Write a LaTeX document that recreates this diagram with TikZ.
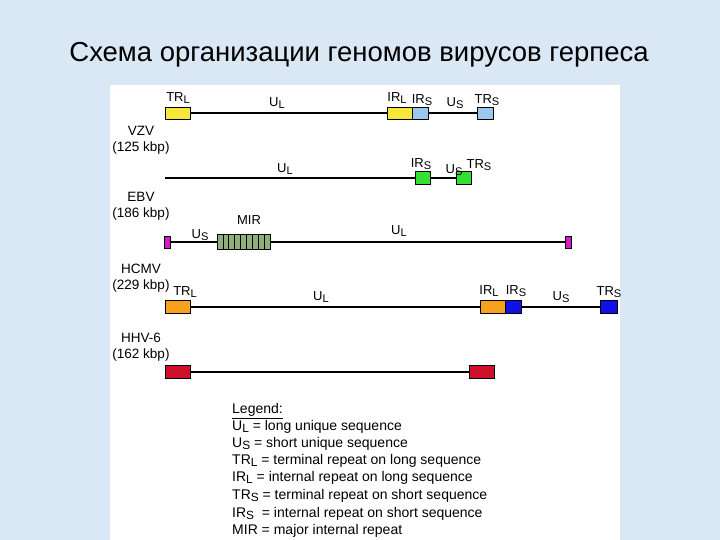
\documentclass[tikz,border=0pt]{standalone}
\usepackage{fontspec}
\setmainfont{Liberation Sans}
\newcommand\sbs[1]{\raisebox{-0.3ex}{\scalebox{0.85}{#1}}}
\definecolor{bg}{HTML}{DAE7F5}
\definecolor{yel}{HTML}{F5E83A}
\definecolor{lblue}{HTML}{9CC6EE}
\definecolor{grn}{HTML}{33E033}
\definecolor{mag}{HTML}{D21CC8}
\definecolor{mir}{HTML}{8FB07A}
\definecolor{org}{HTML}{F7A21E}
\definecolor{dblue}{HTML}{1010E8}
\definecolor{dred}{HTML}{D0102A}
\begin{document}
\begin{tikzpicture}[x=1pt,y=-1pt,
  gline/.style={line width=1.6pt},
  seg/.style={draw=black,line width=0.9pt,minimum height=12pt,inner sep=0pt},
  lab/.style={font=\fontsize{13}{14}\selectfont,inner sep=0pt},
  vir/.style={font=\fontsize{13.5}{16}\selectfont,inner sep=0pt,align=center},
  leg/.style={font=\fontsize{14}{15}\selectfont,inner sep=0pt,anchor=west}]
\useasboundingbox (0,0) rectangle (720,540);
\fill[bg] (0,0) rectangle (720,540);
\fill[white] (110,85) rectangle (620,540);
\node[font=\fontsize{27.5}{30}\selectfont] (title) at (359,55) {Схема организации геномов вирусов герпеса};
% Row 1 VZV
\coordinate (r1a) at (165,113); \coordinate (r1b) at (493,113);
\draw[gline] (r1a) -- (r1b);
\node[seg,fill=yel,minimum width=25pt] (a1) at (177.5,113) {};
\node[seg,fill=yel,minimum width=25pt] (a2) at (399.5,113) {};
\node[seg,fill=lblue,minimum width=16pt] (a3) at (420,113) {};
\node[seg,fill=lblue,minimum width=16pt] (a4) at (485,113) {};
\node[lab] (l1) at (178,98) {TR\sbs{L}};
\node[lab] (l2) at (277,103) {U\sbs{L}};
\node[lab] (l3) at (397,98) {IR\sbs{L}};
\node[lab] (l4) at (422,100) {IR\sbs{S}};
\node[lab] (l5) at (455,103) {U\sbs{S}};
\node[lab] (l6) at (487,100) {TR\sbs{S}};
\node[vir] (v1) at (141,140) {VZV\\(125 kbp)};
% Row 2 EBV
\coordinate (r2a) at (165,178); \coordinate (r2b) at (470,178);
\draw[gline] (r2a) -- (r2b);
\node[seg,fill=grn,minimum width=15pt,minimum height=13pt] (b1) at (422.5,178) {};
\node[seg,fill=grn,minimum width=15pt,minimum height=13pt] (b2) at (463.5,178) {};
\node[lab] (m1) at (285,169) {U\sbs{L}};
\node[lab] (m2) at (421,164) {IR\sbs{S}};
\node[lab] (m3) at (454,170) {U\sbs{S}};
\node[lab] (m4) at (479,165) {TR\sbs{S}};
\node[vir] (v2) at (141,206) {EBV\\(186 kbp)};
% Row 3 HCMV
\coordinate (r3a) at (167,242); \coordinate (r3b) at (568,242);
\draw[gline] (r3a) -- (r3b);
\node[seg,fill=mag,minimum width=6pt] (c1) at (167,242) {};
\node[seg,fill=mag,minimum width=6pt] (c2) at (568,242) {};
\node[seg,fill=mir,minimum width=53pt,minimum height=15pt] (c3) at (243.5,242) {};
\foreach \i in {1,...,8} \draw[line width=0.8pt] (217+\i*5.9,235) -- (217+\i*5.9,249);
\node[lab] (n1) at (200,235) {U\sbs{S}};
\node[lab] (n2) at (249,220) {MIR};
\node[lab] (n3) at (399,231) {U\sbs{L}};
\node[vir] (v3) at (141,278) {HCMV\\(229 kbp)};
% Row 4 HHV-6
\coordinate (r4a) at (165,307); \coordinate (r4b) at (615,307);
\draw[gline] (r4a) -- (r4b);
\node[seg,fill=org,minimum width=25pt,minimum height=13pt] (d1) at (177.5,307) {};
\node[seg,fill=org,minimum width=25pt,minimum height=13pt] (d2) at (492.5,307) {};
\node[seg,fill=dblue,minimum width=16pt,minimum height=13pt] (d3) at (513,307) {};
\node[seg,fill=dblue,minimum width=17pt,minimum height=13pt] (d4) at (609,307) {};
\node[lab] (k1) at (185,292) {TR\sbs{L}};
\node[lab] (k2) at (321,297) {U\sbs{L}};
\node[lab] (k3) at (489,291) {IR\sbs{L}};
\node[lab] (k4) at (516,291) {IR\sbs{S}};
\node[lab] (k5) at (561,297) {U\sbs{S}};
\node[lab] (k6) at (609,292) {TR\sbs{S}};
\node[vir] (v4) at (141,347) {HHV-6\\(162 kbp)};
% Row 5
\coordinate (r5a) at (165,372); \coordinate (r5b) at (494,372);
\draw[gline] (r5a) -- (r5b);
\node[seg,fill=dred,minimum width=25pt,minimum height=13pt] (e1) at (177.5,372) {};
\node[seg,fill=dred,minimum width=25pt,minimum height=13pt] (e2) at (481.5,372) {};
% Legend
\node[leg] (g0) at (232,411) {\underline{Legend:}};
\node[leg] (g1) at (232,427) {U\sbs{L} = long unique sequence};
\node[leg] (g2) at (232,444) {U\sbs{S} = short unique sequence};
\node[leg] (g3) at (232,461) {TR\sbs{L} = terminal repeat on long sequence};
\node[leg] (g4) at (232,478) {IR\sbs{L} = internal repeat on long sequence};
\node[leg] (g5) at (232,496) {TR\sbs{S} = terminal repeat on short sequence};
\node[leg] (g6) at (232,514) {IR\sbs{S}\ \ = internal repeat on short sequence};
\node[leg] (g7) at (232,531) {MIR = major internal repeat};
\end{tikzpicture}
\end{document}
